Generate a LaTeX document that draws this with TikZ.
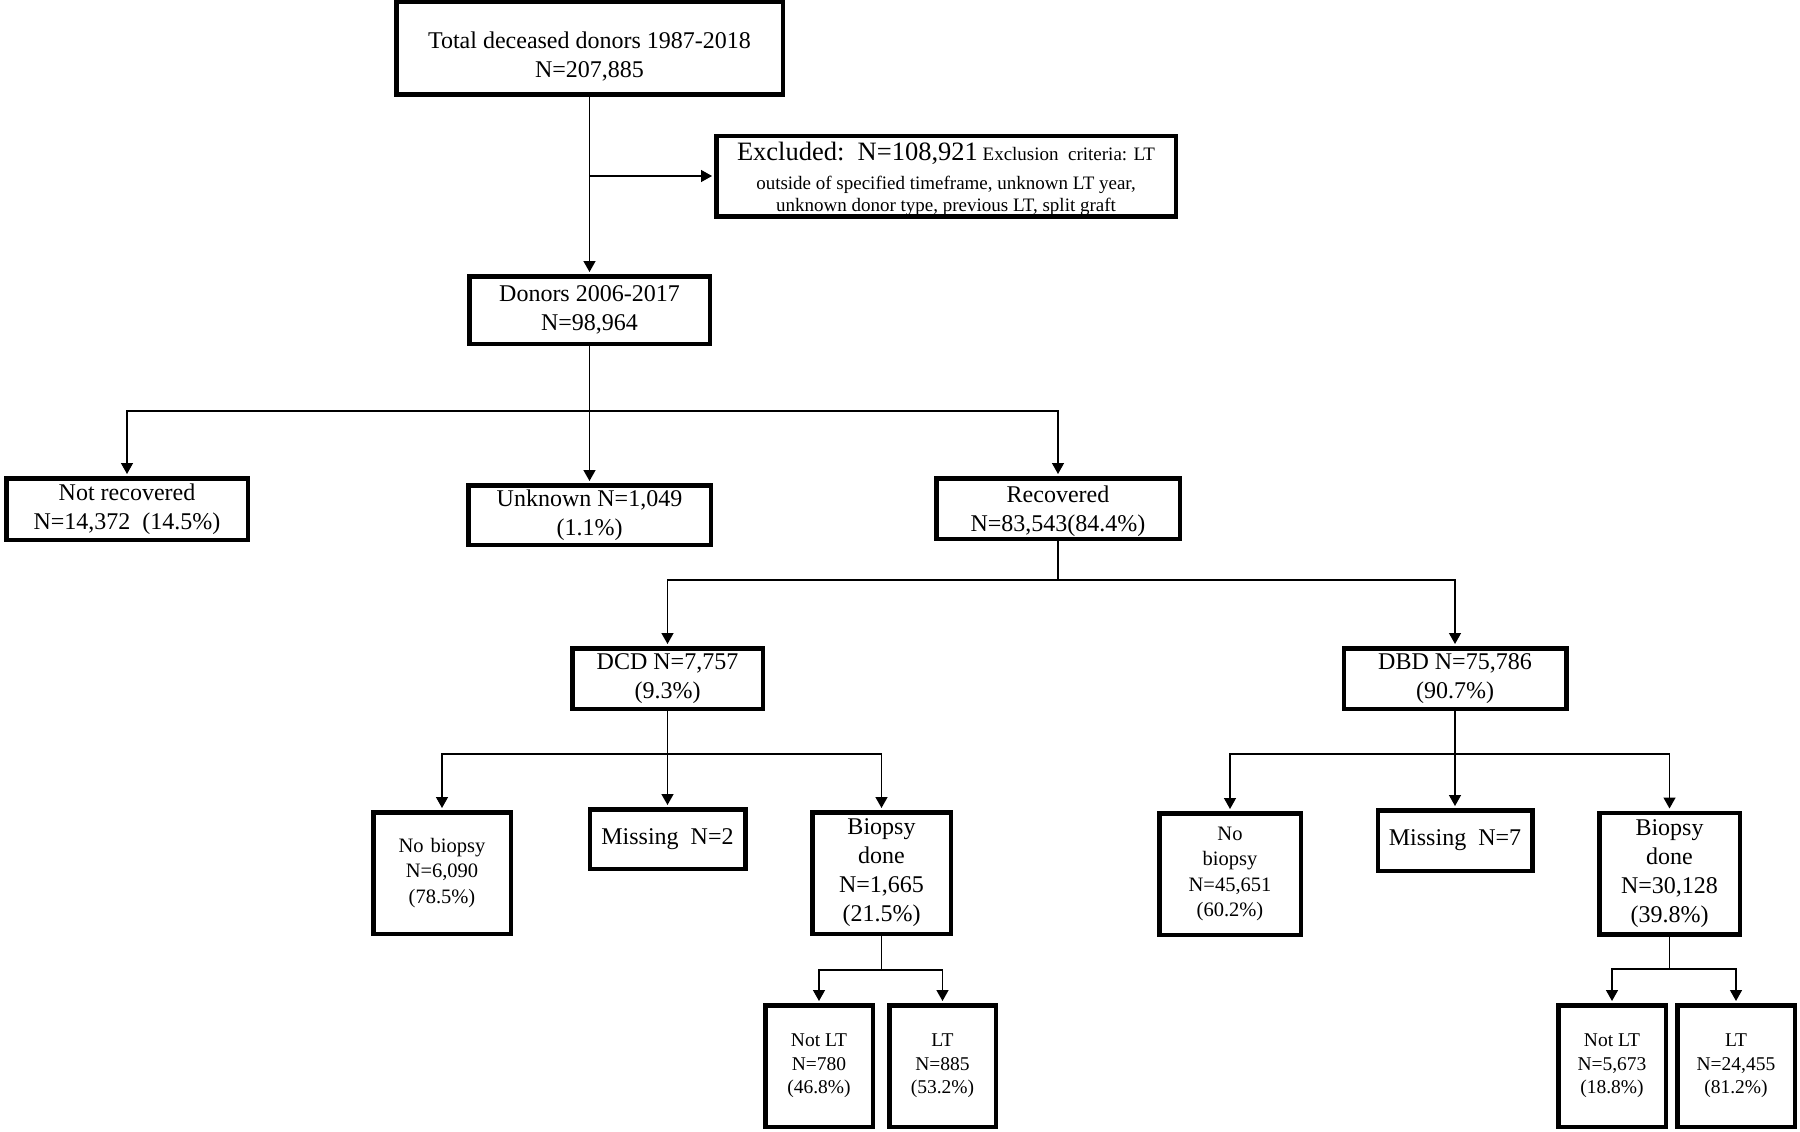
\documentclass[tikz,border=0pt]{standalone}
\usepackage{fontspec}
\setmainfont{Liberation Serif}
\usetikzlibrary{arrows.meta}
\begin{document}
\begin{tikzpicture}[x=1pt,y=-1pt,
  box/.style={draw, line width=4.5pt, align=center, inner sep=0pt, font=\rmfamily\fontsize{24}{29}\selectfont},
  wh/.style 2 args={minimum width={#1pt-4.5pt}, minimum height={#2pt-4.5pt}},
  smalltxt/.style={font=\rmfamily\fontsize{20.5}{25.5}\selectfont},
  tinytxt/.style={font=\rmfamily\fontsize{19.5}{23.5}\selectfont},
  excltxt/.style={font=\rmfamily\fontsize{19}{22}\selectfont},
  conn/.style={line width=1.4pt},
  arr/.style={conn, -{Triangle[width=12pt,length=11pt]}, shorten >=2pt}]
\useasboundingbox (0,0) rectangle (1800,1132);
\fill[white] (0,0) rectangle (1800,1132);

% nodes
\node[box,wh={391}{97}] (top) at (589.5,48.5) {\rule{0pt}{33pt}Total deceased donors 1987-2018\\N=207,885};
\node[box,excltxt,wh={464}{85}] (excl) at (946,176)
  {\rule{0pt}{24pt}{\rmfamily\fontsize{26.5}{27}\selectfont Excluded:\ \ N=108,921} Exclusion\ \ criteria: LT\\[7pt]
   \rmfamily outside of specified timeframe, unknown LT year,\\
   \rmfamily unknown donor type, previous LT, split graft};
\node[box,wh={245}{72}] (donors) at (589.5,310) {Donors 2006-2017\\N=98,964};
\node[box,wh={246}{66}] (notrec) at (127,509) {Not recovered\\N=14,372\hspace{12pt}(14.5\%)};
\node[box,wh={247}{64}] (unknown) at (589.5,515) {Unknown N=1,049\\(1.1\%)};
\node[box,wh={248}{65}] (recovered) at (1058,508.5) {\rule{0pt}{22pt}Recovered\\N=83,543(84.4\%)};
\node[box,wh={195}{65}] (dcd) at (667.5,678.5) {DCD N=7,757\\(9.3\%)};
\node[box,wh={227}{65}] (dbd) at (1455,678.5) {DBD N=75,786\\(90.7\%)};
\node[box,smalltxt,wh={142}{126}] (nob1) at (442,873) {No\hspace{7pt}biopsy\\N=6,090\\(78.5\%)};
\node[box,wh={160}{64}] (miss2) at (667.5,839) {Missing\ \ N=2};
\node[box,wh={143}{126}] (bio1) at (881.5,873) {Biopsy\\done\\N=1,665\\(21.5\%)};
\node[box,smalltxt,wh={146}{126}] (nob2) at (1230,874) {No\\biopsy\\N=45,651\\(60.2\%)};
\node[box,wh={159}{65}] (miss7) at (1455,840.5) {Missing\ \ N=7};
\node[box,wh={145}{126}] (bio2) at (1669.5,873.5) {Biopsy\\done\\N=30,128\\(39.8\%)};
\node[box,tinytxt,wh={112}{126}] (notlt1) at (819,1066) {Not LT\\N=780\\(46.8\%)};
\node[box,tinytxt,wh={111}{126}] (lt1) at (942.5,1066) {LT\\N=885\\(53.2\%)};
\node[box,tinytxt,wh={112}{126}] (notlt2) at (1612,1066) {Not LT\\N=5,673\\(18.8\%)};
\node[box,tinytxt,wh={122}{126}] (lt2) at (1736,1066) {LT\\N=24,455\\(81.2\%)};

% junctions
\coordinate (j1) at (589.5,411);
\coordinate (j2) at (1058,580);
\coordinate (j3) at (667.5,754);
\coordinate (j4) at (1455,754);
\coordinate (j5) at (881.5,970);
\coordinate (j6) at (1669.5,969);

% connectors
\draw[arr] (top.south) -- (donors.north);
\draw[arr] (top.south |- excl.west) -- (excl.west);

\draw[conn] (donors.south) -- (j1);
\draw[arr] (j1) -| (notrec.north);
\draw[arr] (j1) -- (unknown.north);
\draw[arr] (j1) -| (recovered.north);

\draw[conn] (recovered.south) -- (j2);
\draw[arr] (j2) -| (dcd.north);
\draw[arr] (j2) -| (dbd.north);

\draw[conn] (dcd.south) -- (j3);
\draw[arr] (j3) -| (nob1.north);
\draw[arr] (j3) -- (miss2.north);
\draw[arr] (j3) -| (bio1.north);

\draw[conn] (dbd.south) -- (j4);
\draw[arr] (j4) -| (nob2.north);
\draw[arr] (j4) -- (miss7.north);
\draw[arr] (j4) -| (bio2.north);

\draw[conn] (bio1.south) -- (j5);
\draw[arr] (j5) -| (notlt1.north);
\draw[arr] (j5) -| (lt1.north);

\draw[conn] (bio2.south) -- (j6);
\draw[arr] (j6) -| (notlt2.north);
\draw[arr] (j6) -| (lt2.north);
\end{tikzpicture}
\end{document}
